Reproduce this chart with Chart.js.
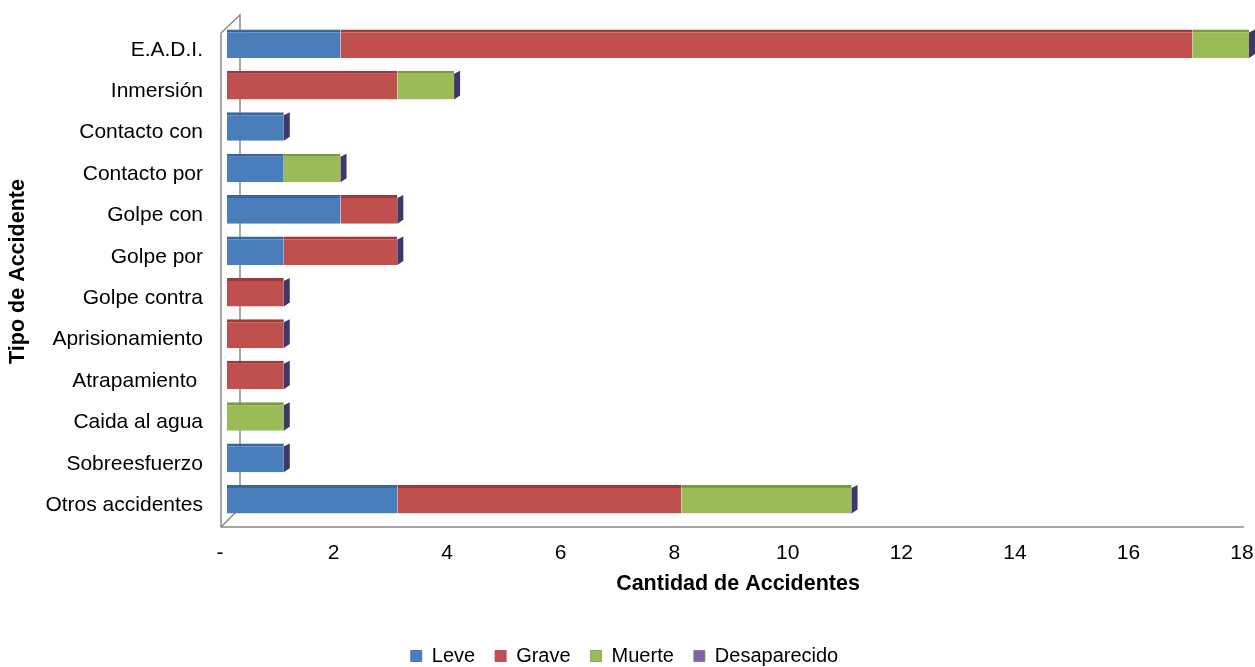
<!DOCTYPE html>
<html>
<head>
<meta charset="utf-8">
<script src="https://cdn.jsdelivr.net/npm/chart.js@4/dist/chart.umd.min.js"></script>
<style>
  html, body { margin: 0; padding: 0; background: #fff; }
  canvas { display: block; }
</style>
</head>
<body>
<canvas id="chart" width="1255" height="667" style="width:1255px;height:667px"></canvas>
<script>
const categories = [
  'E.A.D.I.', 'Inmersión', 'Contacto con', 'Contacto por', 'Golpe con', 'Golpe por',
  'Golpe contra', 'Aprisionamiento', 'Atrapamiento ', 'Caida al agua', 'Sobreesfuerzo', 'Otros accidentes',
];
const leve =         [2, 0, 1, 1, 2, 1, 0, 0, 0, 0, 1, 3];
const grave =        [15, 3, 0, 0, 1, 2, 1, 1, 1, 0, 0, 5];
const muerte =       [1, 1, 0, 1, 0, 0, 0, 0, 0, 1, 0, 3];
const desaparecido = [0, 0, 0, 0, 0, 0, 0, 0, 0, 0, 0, 0];

const FONT = '"Liberation Sans", Arial, sans-serif';
const AXIS_GREY = '#8a8a8a';

// fake 3D frame + bar end faces, the way the old spreadsheet chart looks
const frame3d = {
  id: 'frame3d',
  beforeDatasetsDraw(chart) {
    const { ctx, chartArea } = chart;
    const fx = chartArea.left - 6;
    const bx = chartArea.left + 13;
    const yBot = chartArea.bottom + 7;
    const yTop = chartArea.top + 10;
    ctx.save();
    ctx.strokeStyle = AXIS_GREY;
    ctx.lineWidth = 1.5;
    ctx.beginPath();
    ctx.moveTo(chartArea.right - 5, yBot);
    ctx.lineTo(fx, yBot);
    ctx.lineTo(fx, yTop);
    ctx.lineTo(bx, yTop - 18);
    ctx.lineTo(bx, yBot - 19);
    ctx.lineTo(fx, yBot);
    ctx.stroke();
    ctx.restore();
  },
  afterDatasetsDraw(chart) {
    const { ctx } = chart;
    ctx.save();
    ctx.fillStyle = '#3d3868';
    categories.forEach((_, i) => {
      let last = null;
      chart.data.datasets.forEach((ds, d) => {
        if (ds.data[i] > 0) last = chart.getDatasetMeta(d).data[i];
      });
      if (!last) return;
      const top = last.y - last.height / 2;
      const bot = last.y + last.height / 2;
      ctx.beginPath();
      ctx.moveTo(last.x, top + 3);
      ctx.lineTo(last.x + 6, top);
      ctx.lineTo(last.x + 6, bot - 4);
      ctx.lineTo(last.x, bot);
      ctx.closePath();
      ctx.fill();
    });
    ctx.restore();
  },
};

function series(label, data, color, edge) {
  return {
    label,
    data,
    backgroundColor: color,
    borderColor: edge,
    borderWidth: { top: 3, right: 0, bottom: 0, left: 0 },
    borderSkipped: false,
    barPercentage: 0.69,
    categoryPercentage: 1,
  };
}

new Chart(document.getElementById('chart'), {
  type: 'bar',
  data: {
    labels: categories,
    datasets: [
      series('Leve', leve, '#4a7ebb', '#38669e'),
      series('Grave', grave, '#c0504d', '#9c3b39'),
      series('Muerte', muerte, '#9bbb59', '#7b9a40'),
      series('Desaparecido', desaparecido, '#8064a2', '#8064a2'),
    ],
  },
  options: {
    indexAxis: 'y',
    responsive: false,
    animation: false,
    layout: { padding: { top: 23, right: 6, bottom: -9, left: 0 } },
    scales: {
      x: {
        stacked: true,
        min: 0,
        max: 18,
        grid: { display: false, drawTicks: false },
        border: { display: false },
        ticks: {
          stepSize: 2,
          padding: 21,
          labelOffset: -7,
          color: '#000',
          font: { family: FONT, size: 21 },
          callback: (v) => (v === 0 ? '-' : v),
        },
        title: {
          display: true,
          text: 'Cantidad de Accidentes',
          color: '#000',
          font: { family: FONT, size: 21.5, weight: 'bold' },
          padding: { top: 0, bottom: 29 },
        },
        afterFit: (scale) => {
          scale.height = 106;
          scale.paddingLeft = 0;
          scale.paddingRight = 0;
        },
      },
      y: {
        stacked: true,
        grid: { display: false, drawTicks: false },
        border: { display: false },
        ticks: {
          padding: 24,
          labelOffset: 6,
          color: '#000',
          font: { family: FONT, size: 21 },
        },
        title: {
          display: true,
          text: 'Tipo de Accidente',
          color: '#000',
          font: { family: FONT, size: 21.5, weight: 'bold' },
          padding: { top: 5, bottom: 0 },
        },
        afterFit: (scale) => {
          scale.width = 227;
          scale.paddingTop = 0;
          scale.paddingBottom = 0;
        },
      },
    },
    plugins: {
      legend: {
        position: 'bottom',
        labels: {
          boxWidth: 11,
          boxHeight: 11,
          padding: 20,
          color: '#000',
          font: { family: FONT, size: 20 },
        },
      },
      tooltip: { enabled: false },
    },
  },
  plugins: [frame3d],
});
</script>
</body>
</html>
